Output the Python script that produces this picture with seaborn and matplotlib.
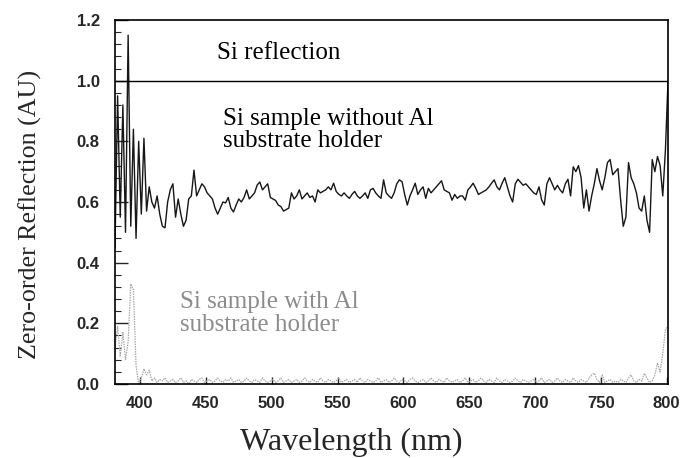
import numpy as np
import pandas as pd
import matplotlib
matplotlib.use("Agg")
import matplotlib.pyplot as plt
import seaborn as sns
from matplotlib.ticker import MultipleLocator

# ==============================
# DATA
# ==============================
wl_start, wl_stop, wl_step = 381, 801, 2
wavelength = np.arange(wl_start, wl_stop + 1, wl_step)

# Si sample without Al substrate holder
refl_no_al = [
    0.45, 0.95, 0.55, 0.92, 0.50, 1.15, 0.52, 0.84, 0.48, 0.80,
    0.56, 0.81, 0.57, 0.65, 0.60, 0.58, 0.62, 0.56, 0.52, 0.515,
    0.60, 0.64, 0.66, 0.55, 0.61, 0.56, 0.52, 0.54, 0.61, 0.62,
    0.705, 0.62, 0.64, 0.66, 0.65, 0.63, 0.62, 0.61, 0.58, 0.56,
    0.58, 0.60, 0.597, 0.615, 0.58, 0.567, 0.59, 0.61, 0.60, 0.615,
    0.64, 0.61, 0.62, 0.63, 0.656, 0.666, 0.64, 0.65, 0.66, 0.615,
    0.61, 0.605, 0.59, 0.585, 0.57, 0.575, 0.58, 0.63, 0.61, 0.62,
    0.64, 0.61, 0.62, 0.63, 0.615, 0.62, 0.60, 0.64, 0.63, 0.635,
    0.64, 0.65, 0.64, 0.662, 0.635, 0.625, 0.62, 0.63, 0.62, 0.612,
    0.625, 0.635, 0.62, 0.612, 0.62, 0.63, 0.612, 0.64, 0.645, 0.63,
    0.62, 0.612, 0.673, 0.63, 0.62, 0.612, 0.63, 0.66, 0.673, 0.667,
    0.625, 0.59, 0.62, 0.64, 0.662, 0.625, 0.64, 0.65, 0.612, 0.645,
    0.63, 0.64, 0.65, 0.66, 0.67, 0.64, 0.635, 0.63, 0.606, 0.625,
    0.612, 0.62, 0.62, 0.606, 0.64, 0.65, 0.662, 0.645, 0.625, 0.63,
    0.635, 0.64, 0.65, 0.662, 0.673, 0.65, 0.64, 0.662, 0.68, 0.65,
    0.62, 0.60, 0.66, 0.675, 0.665, 0.655, 0.66, 0.65, 0.64, 0.63,
    0.625, 0.65, 0.607, 0.59, 0.66, 0.68, 0.66, 0.64, 0.655, 0.64,
    0.63, 0.66, 0.675, 0.62, 0.716, 0.70, 0.72, 0.68, 0.58, 0.64,
    0.57, 0.62, 0.66, 0.71, 0.67, 0.64, 0.68, 0.73, 0.74, 0.69,
    0.70, 0.71, 0.607, 0.52, 0.55, 0.73, 0.68, 0.66, 0.63, 0.58,
    0.57, 0.62, 0.54, 0.50, 0.74, 0.70, 0.75, 0.72, 0.62, 0.77,
    1.0,
]

# Si sample with Al substrate holder
refl_with_al = [
    0.12, 0.19, 0.09, 0.17, 0.08, 0.14, 0.33, 0.31, 0.06, 0.0,
    0.02, 0.05, 0.03, 0.045, 0.01, 0.02, 0.005, 0.015, 0.01, 0.02,
    0.005, 0.01, 0.015, 0.005, 0.01, 0.02, 0.005, 0.01, 0.0, 0.015,
    0.01, 0.005, 0.015, 0.02, 0.005, 0.01, 0.015, 0.005, 0.01, 0.02,
    0.01, 0.005, 0.015, 0.01, 0.02, 0.005, 0.01, 0.015, 0.005, 0.01,
    0.02, 0.01, 0.005, 0.015, 0.01, 0.005, 0.02, 0.01, 0.005, 0.01,
    0.015, 0.005, 0.01, 0.02, 0.005, 0.01, 0.015, 0.005, 0.01, 0.015,
    0.005, 0.01, 0.02, 0.01, 0.005, 0.015, 0.01, 0.005, 0.02, 0.01,
    0.005, 0.015, 0.01, 0.005, 0.01, 0.02, 0.005, 0.01, 0.015, 0.005,
    0.01, 0.015, 0.005, 0.02, 0.01, 0.005, 0.015, 0.01, 0.005, 0.01,
    0.02, 0.005, 0.01, 0.015, 0.005, 0.01, 0.02, 0.01, 0.005, 0.015,
    0.01, 0.005, 0.015, 0.02, 0.01, 0.005, 0.01, 0.015, 0.005, 0.01,
    0.02, 0.01, 0.005, 0.015, 0.01, 0.005, 0.02, 0.01, 0.005, 0.01,
    0.015, 0.005, 0.01, 0.02, 0.005, 0.01, 0.015, 0.005, 0.01, 0.02,
    0.01, 0.005, 0.015, 0.01, 0.005, 0.02, 0.01, 0.005, 0.015, 0.01,
    0.005, 0.01, 0.02, 0.01, 0.005, 0.015, 0.01, 0.005, 0.01, 0.015,
    0.005, 0.01, 0.02, 0.005, 0.01, 0.015, 0.005, 0.01, 0.02, 0.01,
    0.005, 0.015, 0.01, 0.005, 0.02, 0.01, 0.005, 0.015, 0.01, 0.005,
    0.02, 0.03, 0.036, 0.015, 0.005, 0.03, 0.005, 0.01, 0.015, 0.005,
    0.01, 0.005, 0.015, 0.01, 0.005, 0.02, 0.03, 0.01, 0.005, 0.015,
    0.01, 0.035, 0.02, 0.005, 0.01, 0.03, 0.07, 0.04, 0.10, 0.18,
    0.19,
]

si_reflection = 1.0

x_ticks = [400, 450, 500, 550, 600, 650, 700, 750, 800]
y_ticks = [0.0, 0.2, 0.4, 0.6, 0.8, 1.0, 1.2]

df = pd.DataFrame({
    "wavelength": wavelength,
    "no_al": refl_no_al,
    "with_al": refl_with_al,
})

# ==============================
# PLOT
# ==============================
sns.set_style("ticks")
plt.rcParams["font.family"] = ["Liberation Serif", "DejaVu Serif"]

fig = plt.figure(figsize=(6.86, 4.58), dpi=100)
ax = fig.add_axes([0.1676, 0.1616, 0.8062, 0.7947])

sns.lineplot(data=df, x="wavelength", y="no_al", ax=ax,
             color="#161616", linewidth=1.0)
sns.lineplot(data=df, x="wavelength", y="with_al", ax=ax,
             color="#a8a8a8", linewidth=0.9, linestyle=(0, (1.2, 0.8)))
ax.axhline(si_reflection, color="black", linewidth=1.0)

ax.set_xlim(381, 801)
ax.set_ylim(0, 1.2)

tick_font = dict(family=["Liberation Sans", "DejaVu Sans"], size=12,
                 weight="bold")
ax.set_xticks(x_ticks)
ax.set_xticklabels([str(v) for v in x_ticks], **tick_font)
ax.set_yticks(y_ticks)
ax.set_yticklabels([f"{v:.1f}" for v in y_ticks], **tick_font)
ax.yaxis.set_minor_locator(MultipleLocator(0.04))

ax.tick_params(axis="y", which="major", direction="in", length=9,
               width=1.0, pad=11)
ax.tick_params(axis="y", which="minor", direction="in", length=4,
               width=0.8)
ax.tick_params(axis="x", which="major", direction="in", length=5,
               width=1.0, pad=9)

for side in ["left", "right", "top", "bottom"]:
    ax.spines[side].set_visible(True)
    ax.spines[side].set_linewidth(1.2)
    ax.spines[side].set_color("black")

ax.set_xlabel("Wavelength (nm)", fontsize=23)
ax.xaxis.set_label_coords(0.427, -0.12)
ax.set_ylabel("Zero-order Reflection (AU)", fontsize=18.7)
ax.yaxis.set_label_coords(-0.132, 0.467)

ax.text(458.5, 1.091, "Si reflection", fontsize=18, va="center",
        ha="left", color="black")
ax.text(463, 0.836, "Si sample without Al\nsubstrate holder",
        fontsize=18, va="center", ha="left", color="black",
        linespacing=1.0)
ax.text(430.5, 0.232, "Si sample with Al\nsubstrate holder",
        fontsize=18, va="center", ha="left", color="#8c8c8c",
        linespacing=1.08)

plt.savefig("out.png", dpi=100)
